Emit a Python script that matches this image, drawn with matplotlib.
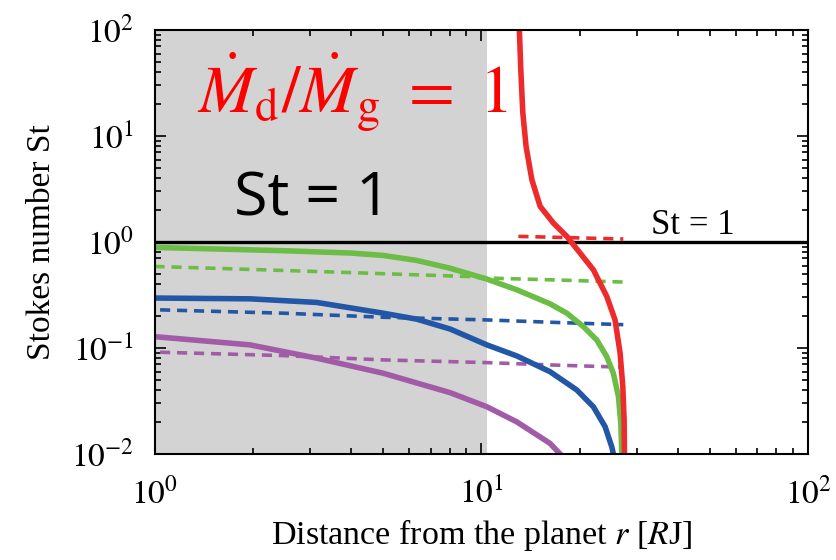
import numpy as np
from matplotlib import pyplot as plt

plt.rcParams['font.family'] = ['Liberation Serif', 'DejaVu Serif']
plt.rcParams['mathtext.fontset'] = 'stix'

# values (r in R_J, St)
green_r = [1.0, 1.55, 2.48, 3.97, 5.01, 6.35, 8.02, 10.4, 12.85, 16.24, 18.27, 20.54,
           22.57, 24.21, 25.36, 26.29, 26.73, 26.92]
green_st = [0.889, 0.859, 0.828, 0.787, 0.747, 0.670, 0.566, 0.447, 0.354, 0.261, 0.213,
            0.159, 0.119, 0.0829, 0.0578, 0.0347, 0.0195, 0.0101]
green_dash_r = [1.0, 3.14, 9.03, 10.4, 16.24, 27.2]
green_dash_st = [0.588, 0.527, 0.473, 0.457, 0.44, 0.419]

blue_r = [1.0, 1.96, 3.14, 5.01, 6.35, 8.03, 10.4, 12.84, 16.23, 19.6, 22.03, 23.93,
          25.08, 25.37]
blue_st = [0.296, 0.291, 0.269, 0.213, 0.187, 0.151, 0.107, 0.0842, 0.0598, 0.0402,
           0.0279, 0.0181, 0.0117, 0.0100]
blue_dash_r = [1.04, 2.48, 5.01, 10.4, 16.23, 27.2]
blue_dash_st = [0.229, 0.213, 0.195, 0.184, 0.175, 0.166]

purple_r = [1.0, 1.96, 3.14, 5.01, 8.03, 10.4, 12.84, 16.23, 17.43]
purple_st = [0.128, 0.107, 0.0801, 0.0578, 0.0379, 0.0279, 0.0201, 0.0126, 0.0100]
purple_dash_r = [1.04, 2.48, 5.01, 10.4, 16.23, 27.2]
purple_dash_st = [0.0912, 0.0848, 0.0772, 0.0728, 0.0692, 0.0659]

red_r = [13.08, 13.21, 13.4, 13.71, 14.28, 15.14, 16.62, 18.27, 20.06, 22.03, 24.22,
         25.67, 26.6, 27.11, 27.36, 27.42]
red_st = [100, 42.5, 16.6, 8.01, 3.88, 2.17, 1.51, 1.13, 0.787, 0.547, 0.306, 0.184,
          0.0893, 0.0432, 0.0209, 0.0101]
red_dash_r = [12.99, 27.2]
red_dash_st = [1.13, 1.067]

shade_r = [1.0, 10.4]

fig = plt.figure(figsize=(8.37, 5.6), dpi=100)
ax = fig.add_axes([0.1846, 0.1893, 0.7808, 0.7571])

ax.axvspan(shade_r[0], shade_r[1], color='#d3d3d3', lw=0, zorder=0)
ax.axhline(1.0, color='black', lw=2.4, zorder=2)

dash = (0, (2.8, 1.9))
ax.plot(green_dash_r, green_dash_st, color='#6cbd45', lw=2.6, ls=dash)
ax.plot(blue_dash_r, blue_dash_st, color='#2157a6', lw=2.6, ls=dash)
ax.plot(purple_dash_r, purple_dash_st, color='#a25ba7', lw=2.6, ls=dash)
ax.plot(red_dash_r, red_dash_st, color='#ed2b2b', lw=2.6, ls=dash)

ax.plot(purple_r, purple_st, color='#a25ba7', lw=4, solid_joinstyle='round')
ax.plot(blue_r, blue_st, color='#2157a6', lw=4, solid_joinstyle='round')
ax.plot(green_r, green_st, color='#6cbd45', lw=4, solid_joinstyle='round')
ax.plot(red_r, red_st, color='#ed2b2b', lw=4, solid_joinstyle='round')

ax.set_xscale('log')
ax.set_yscale('log')
ax.set_xlim(1, 100)
ax.set_ylim(0.01, 100)

ax.set_xticks([1, 10, 100], ['$10^{0}$', '$10^{1}$', '$10^{2}$'])
ax.set_yticks([0.01, 0.1, 1, 10, 100],
              ['$10^{-2}$', '$10^{-1}$', '$10^{0}$', '$10^{1}$', '$10^{2}$'])
ax.tick_params(which='both', direction='in', top=True, right=True, width=1.2)
ax.tick_params(which='major', length=8, labelsize=24)
ax.tick_params(which='minor', length=4.5)
ax.tick_params(axis='x', which='major', pad=17)
ax.tick_params(axis='y', which='major', pad=15)
for s in ax.spines.values():
    s.set_linewidth(1.5)

ax.set_xlabel('Distance from the planet $r$ [$R$J]', fontsize=24.5, labelpad=5)
ax.set_ylabel('Stokes number St', fontsize=24, labelpad=10)

ax.text(0.302, 0.855, r'$\dot{M}_{\rm d}/\dot{M}_{\rm g}\ =\ 1$', transform=ax.transAxes,
        color='red', fontsize=48, ha='center', va='center')
ax.text(0.242, 0.60, 'St = 1', transform=ax.transAxes, family=['Open Sans', 'DejaVu Sans'],
        fontsize=44, ha='center', va='center')
ax.text(0.824, 0.518, 'St = 1', transform=ax.transAxes, fontsize=25,
        ha='center', va='baseline')

fig.savefig('out.png', dpi=100)
